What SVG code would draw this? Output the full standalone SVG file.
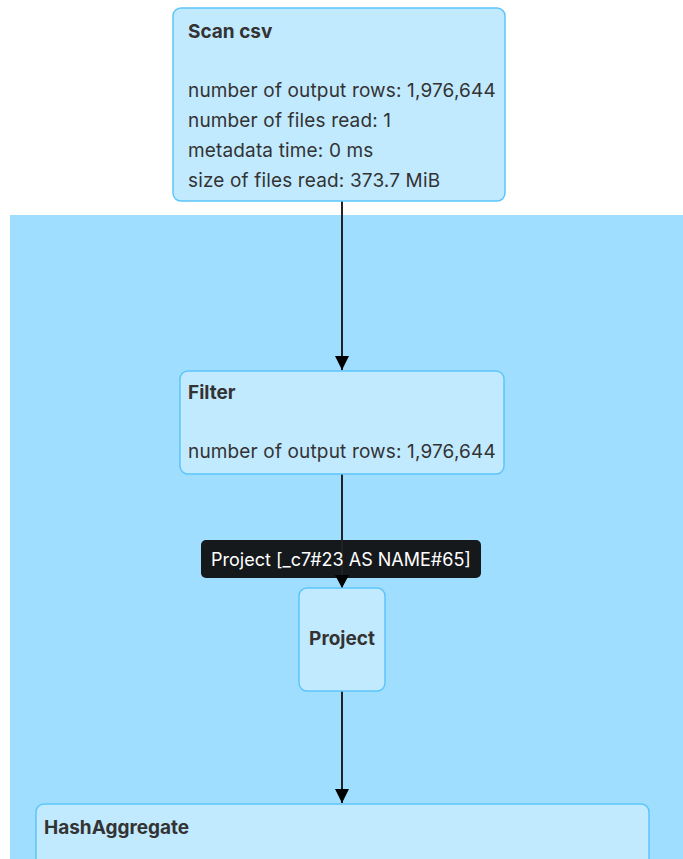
<svg xmlns="http://www.w3.org/2000/svg" width="683" height="859" viewBox="0 0 683 859">
<defs>
<marker id="arr" viewBox="0 0 10 10" refX="10" refY="5" markerWidth="14" markerHeight="14" markerUnits="userSpaceOnUse" orient="auto">
<path d="M0,0 L10,5 L0,10 z" fill="#000"/>
</marker>
</defs>
<style>
.node{fill:#C2EAFF;stroke:#5CC5FA;stroke-width:1.5}
.t{font-family:Inter,"Liberation Sans",Arial,sans-serif;font-size:19px;fill:#333;letter-spacing:0.15px}
.b{font-weight:bold;letter-spacing:0}
.edge{stroke:#222;stroke-width:2;fill:none}
</style>
<rect x="0" y="0" width="683" height="859" fill="#fff"/>
<rect id="cluster" x="10" y="215" width="673" height="644" fill="#A0DEFF"/>
<g id="connectors">
<line class="edge" x1="342" y1="201" x2="342" y2="370" marker-end="url(#arr)"/>
<line class="edge" x1="342" y1="474" x2="342" y2="587" marker-end="url(#arr)"/>
<line class="edge" x1="342" y1="691" x2="342" y2="803" marker-end="url(#arr)"/>
</g>
<g id="scan">
<rect class="node" x="173" y="8" width="332" height="193" rx="8"/>
<text class="t b" x="188" y="38">Scan csv</text>
<text class="t" x="188" y="97">number of output rows: 1,976,644</text>
<text class="t" x="188" y="127">number of files read: 1</text>
<text class="t" x="188" y="157">metadata time: 0 ms</text>
<text class="t" x="188" y="187">size of files read: 373.7 MiB</text>
</g>
<g id="filter">
<rect class="node" x="180" y="371" width="324" height="103" rx="8"/>
<text class="t b" x="188" y="399">Filter</text>
<text class="t" x="188" y="458">number of output rows: 1,976,644</text>
</g>
<g id="project">
<rect class="node" x="299" y="588" width="86" height="103" rx="8"/>
<text class="t b" x="342" y="645" text-anchor="middle">Project</text>
</g>
<g id="hashagg">
<rect class="node" x="36" y="804" width="613" height="80" rx="8"/>
<text class="t b" x="44" y="834">HashAggregate</text>
</g>
<g id="tooltip">
<rect x="201" y="540" width="280" height="38" rx="5" fill="#16191C"/>
<line class="edge" x1="342" y1="540" x2="342" y2="578"/>
<text x="341" y="566" text-anchor="middle" font-family="Inter,Liberation Sans,Arial,sans-serif" font-size="18" fill="#fff">Project [_c7#23 AS NAME#65]</text>
<path d="M335,575 L349,575 L342,588 z" fill="#000"/>
</g>
</svg>
